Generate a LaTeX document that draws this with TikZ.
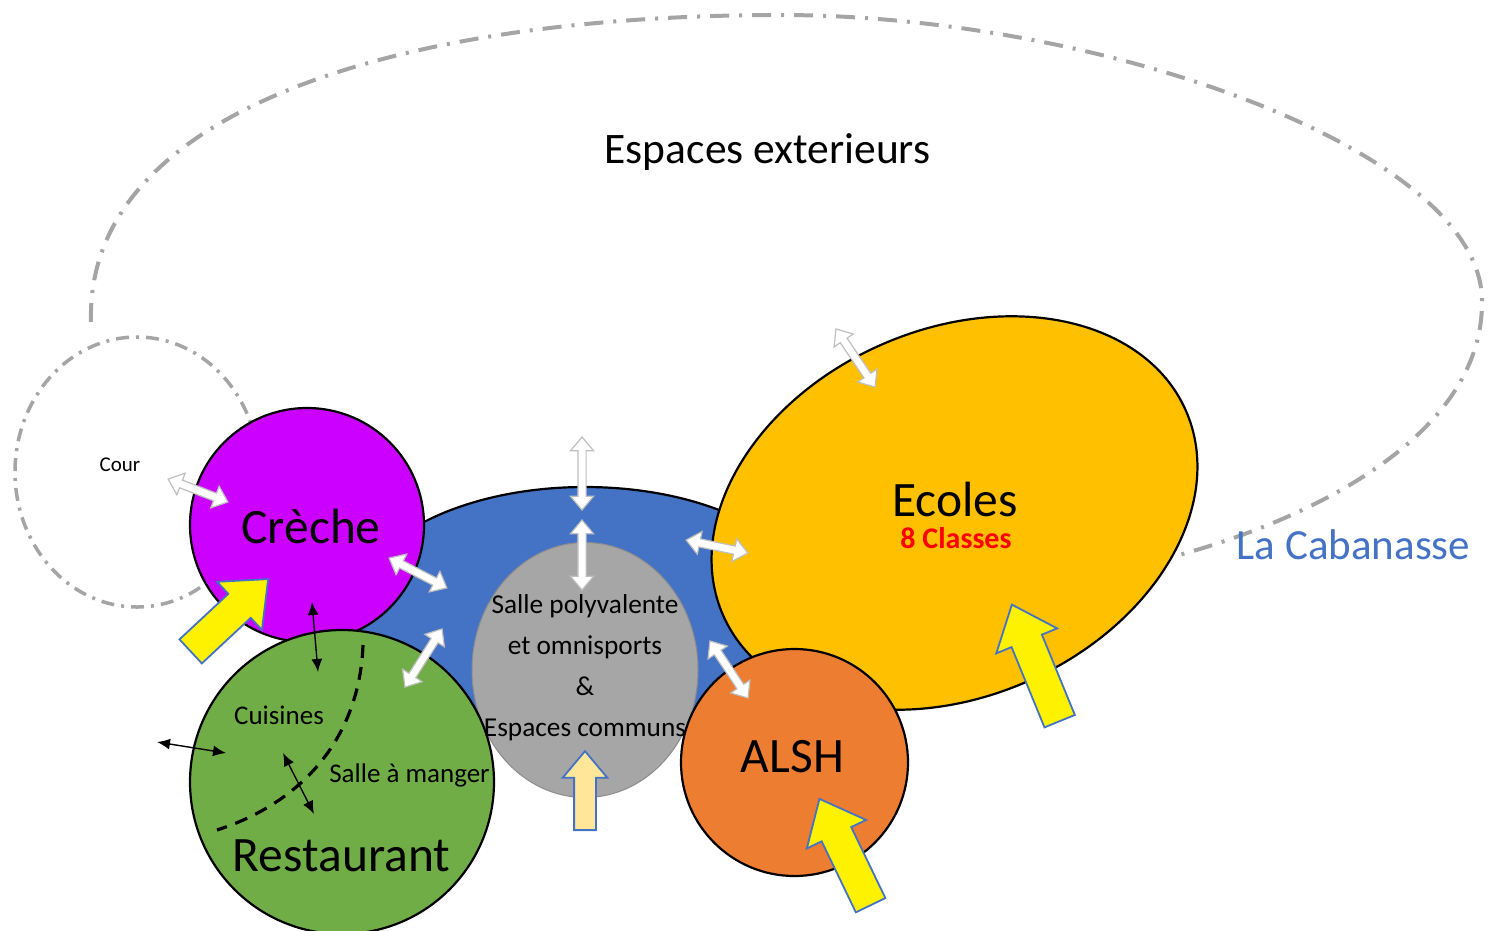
\documentclass[tikz,border=0pt]{standalone}
\usepackage{fontspec}
\setmainfont{Carlito}
\usetikzlibrary{arrows.meta,shapes.geometric,shapes.arrows}

\definecolor{creche}{RGB}{204,0,255}
\definecolor{resto}{RGB}{112,173,71}
\definecolor{hall}{RGB}{68,114,196}
\definecolor{salle}{RGB}{166,166,166}
\definecolor{ecole}{RGB}{255,192,0}
\definecolor{alsh}{RGB}{237,125,49}
\definecolor{pale}{RGB}{255,230,153}
\definecolor{limit}{RGB}{165,165,165}

\begin{document}
\begin{tikzpicture}
    [x=1pt, y=-1pt,
    zone/.style={draw=black, line width=2.2pt},
    limite/.style={draw=limit, line width=4pt, dash pattern=on 19pt off 10pt on 3pt off 10pt},
    coupe/.style={draw=black, line width=3.2pt, dash pattern=on 13pt off 9pt},
    lien/.style={double arrow, draw=black!25, fill=white, line width=1.2pt, inner xsep=0pt, inner ysep=3.5pt,
      double arrow head extend=7.5pt, double arrow tip angle=80},
    acces/.style={single arrow, draw=hall, fill=yellow, line width=1.8pt, inner xsep=0pt, inner ysep=15.5pt,
      single arrow head extend=16.5pt, single arrow tip angle=80, anchor=tail},
    fleche/.style={line width=1.4pt, >={Latex[length=13pt,width=11pt]}, <->},
    titre/.style={font=\fontsize{49.5}{60}\selectfont, anchor=base, inner sep=1pt},
    texte/.style={font=\fontsize{27}{41}\selectfont, anchor=base, inner sep=1pt}]
  \useasboundingbox (0,0) rectangle (1494,930);

  % limites des espaces exterieurs et de la cour
  \draw[limite] (91,322) .. controls (85,110) and (400,15) .. (780,15)
    .. controls (1100,15) and (1480,150) .. (1482,300)
    .. controls (1484,440) and (1300,525) .. (1160,560);
  \node[limite, line width=3.5pt, dash pattern=on 13pt off 7pt on 3pt off 7pt, ellipse,
    minimum width=244pt, minimum height=270pt] (cour) at (137,472) {};

  % zones
  \node[zone, ellipse, fill=hall, minimum width=464pt, minimum height=250pt] (hall) at (585,612) {};
  \node[draw=black!45, line width=1pt, ellipse, fill=salle, minimum width=226pt, minimum height=255pt] (salle) at (585,670) {};
  \node[zone, ellipse, fill=ecole, rotate=24, minimum width=506pt, minimum height=367pt] (ecoles) at (954.5,513) {};
  \node[zone, circle, fill=alsh, minimum size=227pt] (alsh) at (794.5,762.5) {};
  \node[zone, circle, fill=creche, minimum size=234pt] (creche) at (307,525) {};
  \node[zone, circle, fill=resto, minimum size=304pt] (resto) at (342,782) {};

  % cuisines / salle a manger
  \draw[coupe] (363,645) .. controls (360,730) and (310,800) .. (217,830);
  \coordinate (c1) at (312,602);
  \coordinate (c2) at (318,672);
  \coordinate (c3) at (157,742);
  \coordinate (c4) at (226,753);
  \coordinate (c5) at (283,753);
  \coordinate (c6) at (314,814);
  \draw[fleche] (c1) -- (c2);
  \draw[fleche] (c3) -- (c4);
  \draw[fleche] (c5) -- (c6);

  % acces
  \node[acces, rotate=43, minimum height=106pt] (entreeCreche) at (190,652) {};
  \node[acces, rotate=112.3, minimum height=126pt] (entreeEcoles) at (1060,722) {};
  \node[acces, rotate=115.7, minimum height=118pt] (entreeAlsh) at (871,906) {};
  \node[acces, fill=pale, inner ysep=10pt, single arrow head extend=11.5pt, rotate=90,
    minimum height=79pt] (entreeSalle) at (585,831) {};

  % liaisons
  \node[lien, rotate=-21, minimum height=64pt] (lienCour) at (198,490.5) {};
  \node[lien, rotate=-27.4, minimum height=65pt] (lienCreche) at (418,573) {};
  \node[lien, rotate=57.5, minimum height=69pt] (lienResto) at (423.5,658) {};
  \node[lien, rotate=90, minimum height=73pt] (lienExt) at (582,473.5) {};
  \node[lien, rotate=90, minimum height=70pt] (lienSalle) at (582,555) {};
  \node[lien, rotate=-11.8, minimum height=63pt] (lienEcoles) at (717,546.5) {};
  \node[lien, rotate=-56.3, minimum height=68.5pt] (lienAlsh) at (729,669.5) {};
  \node[lien, rotate=-56, minimum height=70pt] (lienEcolesExt) at (855.5,358) {};

  % textes
  \node[font=\fontsize{43.5}{52}\selectfont, anchor=base] (exterieurTxt) at (767.5,163) {Espaces exterieurs};
  \node[font=\fontsize{21}{25}\selectfont, anchor=base] (courTxt) at (120,471) {Cour};
  \node[titre] (crecheTxt) at (311,543) {Crèche};
  \node[titre] (restoTxt) at (341.5,871) {Restaurant};
  \node[texte] (cuisinesTxt) at (279,724) {Cuisines};
  \node[texte] (mangerTxt) at (409.5,782) {Salle à manger};
  \node[texte, font=\fontsize{27.3}{41}\selectfont, align=center, anchor=center] (salleTxt) at (585,668)
    {Salle polyvalente\\et omnisports\\\&\\Espaces communs};
  \node[titre] (ecolesTxt) at (955,516) {Ecoles};
  \node[font=\bfseries\fontsize{30}{36}\selectfont, text=red, anchor=base, inner sep=1pt] (classesTxt) at (956,548) {8 Classes};
  \node[titre] (alshTxt) at (792.5,772) {ALSH};
  \node[font=\fontsize{43}{52}\selectfont, text=hall, anchor=base] (cabanasseTxt) at (1353.5,559) {La Cabanasse};
\end{tikzpicture}
\end{document}
